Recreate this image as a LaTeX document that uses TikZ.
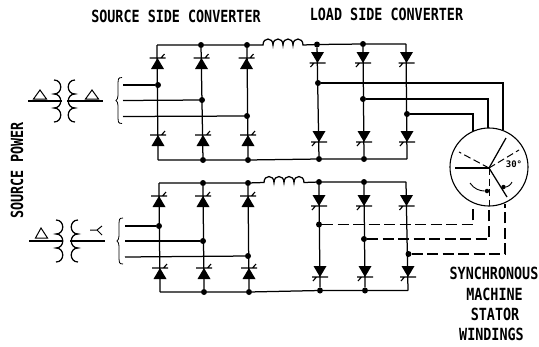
\documentclass[tikz,border=0pt]{standalone}
\usepackage{fontspec}
\setmainfont{DejaVu Sans Mono}
\tikzset{
  wire/.style={line width=1.25pt,line join=miter},
  dashwire/.style={line width=1.1pt,dash pattern=on 11pt off 4.5pt},
  jn/.style={circle,fill=black,inner sep=0pt,minimum size=6pt},
  lbl/.style={font=\bfseries\fontsize{13.4}{14}\selectfont,inner sep=0pt,anchor=center},
  tall/.style={lbl,yscale=1.25},
  thyup/.pic={
    \fill[black] (0,0) -- (-6.5,11) -- (6.5,11) -- cycle;
    \draw[line width=1.1pt] (-8,0) -- (8,0) (3.5,0) -- (7,-4);
  },
  thydown/.pic={
    \fill[black] (0,11) -- (-6.5,0) -- (6.5,0) -- cycle;
    \draw[line width=1.1pt] (-8,11) -- (8,11) (-3.5,11) -- (-7,15);
  }
}
\newcommand{\coilR}[2]{\draw[wire] (#1,#2) .. controls +(9,0) and +(9,0) .. ++(0,14) .. controls +(9,0) and +(9,0) .. ++(0,14) .. controls +(9,0) and +(9,0) .. ++(0,14);}
\newcommand{\coilL}[2]{\draw[wire] (#1,#2) .. controls +(-9,0) and +(-9,0) .. ++(0,14) .. controls +(-9,0) and +(-9,0) .. ++(0,14) .. controls +(-9,0) and +(-9,0) .. ++(0,14);}
\newcommand{\feedbrace}[2]{\draw[line width=.8pt] (#1+4,#2-23) .. controls (#1,#2-23) and (#1,#2-21) .. (#1,#2-18) -- (#1,#2-5) .. controls (#1,#2-2) and (#1-1,#2-1) .. (#1-2,#2) .. controls (#1-1,#2+1) and (#1,#2+2) .. (#1,#2+5) -- (#1,#2+18) .. controls (#1,#2+21) and (#1,#2+23) .. (#1+4,#2+23);}
\begin{document}
\begin{tikzpicture}[x=1pt,y=-1pt]
\useasboundingbox (0,0) rectangle (539,346);
% labels
\node[tall] (t1) at (176,16.5) {SOURCE SIDE CONVERTER};
\node[tall] (t2) at (386.5,14.5) {LOAD SIDE CONVERTER};
\node[rotate=90,tall] (t3) at (17,170.5) {SOURCE POWER};
\node[tall] (t4) at (494,273) {SYNCHRONOUS};
\node[tall] (t5) at (494.5,294) {MACHINE};
\node[tall] (t6) at (495,314) {STATOR};
\node[tall] (t7) at (491.5,334) {WINDINGS};
% junctions
\foreach \n/\x/\y in {a2/201/45,a3/247/45,a5/317/44.5,a6/363/44,
  b2/203/160,b3/248/160,b4/319/159,b5/364/159,
  ac1/158/85,ac2/202/100,ac3/247/116,
  ld1/318/83,ld2/363/99,ld3/407/114,
  c2/203/183,c3/248/183,c5/319/182,c6/364/182,
  d2/204/292,d3/249/292,d4/320/290.5,d5/365/290.5,
  bc1/159/226,bc2/203/241,bc3/248/256,
  me1/319/224.5,me2/364/239,me3/408.5/254}
  {\node[jn] (\n) at (\x,\y) {};}
% free corners
\coordinate (a1) at (157,45);   \coordinate (a7) at (406,44);
\coordinate (b1) at (158,160);  \coordinate (b6) at (407,159);
\coordinate (c1) at (159,183);  \coordinate (c7) at (406,182);
\coordinate (d1) at (160,292);  \coordinate (d6) at (408,290.5);
% buses
\draw[wire] (a1) -- (a2) -- (a3) -- (263,45)
  .. controls +(0,-8) and +(0,-8) .. ++(10,0)
  .. controls +(0,-8) and +(0,-8) .. ++(10,0)
  .. controls +(0,-8) and +(0,-8) .. ++(10,0)
  .. controls +(0,-8) and +(0,-8) .. ++(10,0) -- (a5) -- (a6) -- (a7);
\draw[wire] (b1) -- (b2) -- (b3) -- (b4) -- (b5) -- (b6);
\draw[wire] (c1) -- (c2) -- (c3) -- (264,182.5)
  .. controls +(0,-8) and +(0,-8) .. ++(10,0)
  .. controls +(0,-8) and +(0,-8) .. ++(10,0)
  .. controls +(0,-8) and +(0,-8) .. ++(10,0)
  .. controls +(0,-8) and +(0,-8) .. ++(10,0) -- (c5) -- (c6) -- (c7);
\draw[wire] (d1) -- (d2) -- (d3) -- (d4) -- (d5) -- (d6);
% columns
\draw[wire] (a1) -- (b1);
\draw[wire] (a2) -- (b2);
\draw[wire] (a3) -- (b3);
\draw[wire] (a5) -- (b4);
\draw[wire] (a6) -- (b5);
\draw[wire] (a7) -- (b6);
\draw[wire] (c1) -- (d1);
\draw[wire] (c2) -- (d2);
\draw[wire] (c3) -- (d3);
\draw[wire] (c5) -- (d4);
\draw[wire] (c6) -- (d5);
\draw[wire] (c7) -- (d6);
% thyristors
\foreach \x/\y in {157.5/58,201.5/58,246.5/58,158/135,203/135,248/135,
                   159/196,203/196,248/196,160/268,204/268,249/268}
  {\pic at (\x,\y) {thyup};}
\foreach \x/\y in {317.5/52,363/52,406.5/52,319/131,364/131,407/131,
                   319/195,364/195,406.5/195,320/266,365/266,408/266}
  {\pic at (\x,\y) {thydown};}
% AC feeds
\coordinate (f1) at (123,85); \coordinate (f2) at (123,100.5); \coordinate (f3) at (123,116.5);
\coordinate (g1) at (125,226); \coordinate (g2) at (125,241); \coordinate (g3) at (125,257);
\draw[wire] (f1) -- (ac1);
\draw[wire] (f2) -- (ac2);
\draw[wire] (f3) -- (ac3);
\draw[wire] (g1) -- (bc1);
\draw[wire] (g2) -- (bc2);
\draw[wire] (g3) -- (bc3);
\feedbrace{118}{100.5}
\feedbrace{119}{241}
% transformers
\draw[wire] (28,101) -- (62,101) (67,101) -- (103,101);
\draw[wire] (29,241) -- (63,241) (70,241) -- (105,241);
\coilR{54}{80}
\coilL{75}{80}
\coilR{56}{220}
\coilL{78}{220}
\draw[line width=1pt] (40,90) -- (33.5,99) -- (46.5,99) -- cycle;
\draw[line width=1pt] (92,90) -- (85.5,99) -- (98.5,99) -- cycle;
\draw[line width=1pt] (41,228) -- (35.5,238) -- (47.5,238) -- cycle;
\draw[line width=1pt] (90,230) -- (97,230) (102,226) -- (97,230) -- (102,235);
% machine
\node[circle,draw,line width=1.1pt,inner sep=0pt,minimum size=78pt] (m) at (489,167) {};
\coordinate (o) at (489,168);
\draw[wire] (ld1) -- (503,83) -- (503,130);
\draw[wire] (ld2) -- (488,99) -- (488,128);
\draw[wire] (ld3) -- (473,114) -- (473,131);
\draw[wire] (o) -- (506,138);
\draw[wire] (o) -- (455,168);
\draw[wire] (o) -- (507,197);
\draw[line width=1pt,dash pattern=on 7pt off 3.5pt] (o) -- (459,152);
\draw[line width=1pt,dash pattern=on 7pt off 3.5pt] (o) -- (519,150);
\draw[line width=1pt,dash pattern=on 7pt off 3.5pt] (o) -- (489,206);
\node[jn,minimum size=4.5pt] (r1) at (487,191) {};
\node[jn,minimum size=4.5pt] (r2) at (503.5,187) {};
\draw[line width=.9pt] (470,183) .. controls (474,189) and (480,191) .. (r1);
\draw[line width=.9pt] (512,182) .. controls (511,185) and (507,187) .. (r2);
\node[font=\bfseries\fontsize{9}{9}\selectfont,inner sep=0pt] (deg) at (514,164) {30°};
% dashed feeds
\draw[dashwire] (me1) -- (473,224.5) -- (473,205);
\draw[dashwire] (me2) -- (489,239) -- (489,206);
\draw[dashwire] (me3) -- (505,254) -- (505,204);
\end{tikzpicture}
\end{document}
